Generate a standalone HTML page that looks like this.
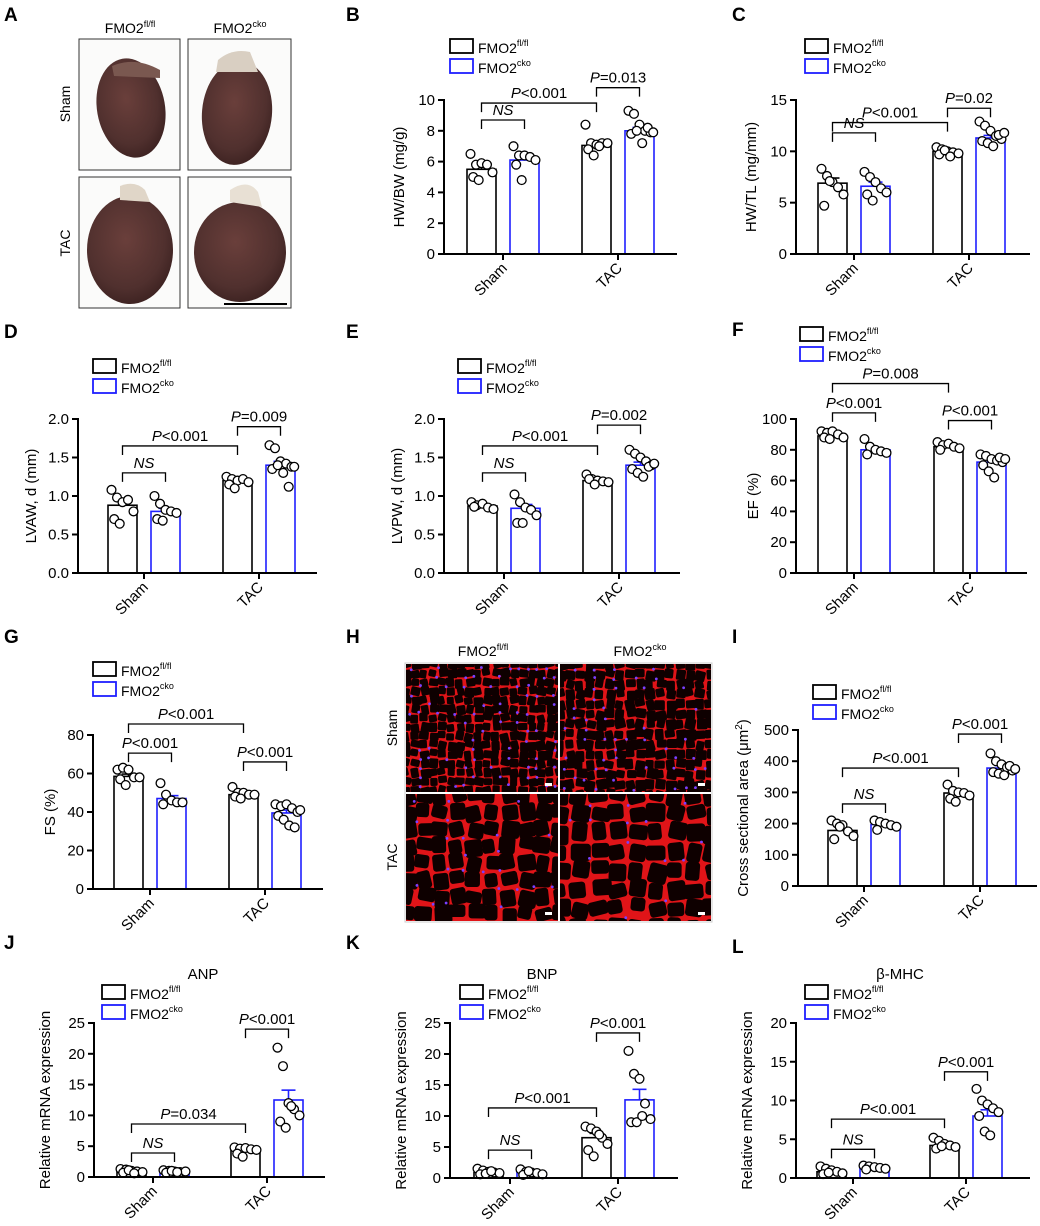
<!DOCTYPE html>
<html><head><meta charset="utf-8">
<style>
html,body{margin:0;padding:0;background:#fff;}
svg{display:block;font-family:"Liberation Sans",Arial,sans-serif;}
</style></head>
<body>
<svg id="fig" width="1040" height="1226" viewBox="0 0 1040 1226" xmlns="http://www.w3.org/2000/svg">
<defs>
<radialGradient id="heartG" cx="0.45" cy="0.4" r="0.65">
<stop offset="0" stop-color="#6a3f3b"/><stop offset="0.7" stop-color="#50302e"/><stop offset="1" stop-color="#3a201f"/>
</radialGradient>
</defs>
<g id="letters" font-weight="bold" font-size="19">
<text x="4" y="21">A</text><text x="346" y="21">B</text><text x="732" y="21">C</text>
<text x="4" y="338">D</text><text x="346" y="338">E</text><text x="732" y="336">F</text>
<text x="4" y="643">G</text><text x="346" y="643">H</text><text x="732" y="643">I</text>
<text x="4" y="949">J</text><text x="346" y="949">K</text><text x="732" y="953">L</text>
</g>
<g id="panelA">
<text x="130" y="33" font-size="14" text-anchor="middle">FMO2<tspan font-size="9" dy="-6">fl/fl</tspan></text>
<text x="240" y="33" font-size="14" text-anchor="middle">FMO2<tspan font-size="9" dy="-6">cko</tspan></text>
<text transform="translate(70,104) rotate(-90)" font-size="14" text-anchor="middle">Sham</text>
<text transform="translate(70,243) rotate(-90)" font-size="14" text-anchor="middle">TAC</text>
<rect x="79" y="39" width="101" height="131" fill="#fbfbfa" stroke="#333"/>
<rect x="188" y="39" width="103" height="131" fill="#fbfbfa" stroke="#333"/>
<rect x="79" y="177" width="101" height="131" fill="#fbfbfa" stroke="#333"/>
<rect x="188" y="177" width="103" height="131" fill="#fbfbfa" stroke="#333"/>
<ellipse cx="131" cy="108" rx="34" ry="50" fill="url(#heartG)" transform="rotate(-10 131 108)"/>
<path d="M112 66 Q135 56 160 70 L160 78 L114 76Z" fill="#7a5850"/>
<ellipse cx="237" cy="113" rx="35" ry="52" fill="url(#heartG)" transform="rotate(5 237 113)"/>
<path d="M218 60 Q232 48 250 52 L258 72 L216 72Z" fill="#d9cfc2"/>
<ellipse cx="130" cy="250" rx="43" ry="54" fill="url(#heartG)"/>
<path d="M120 186 Q135 180 145 190 L150 202 L120 200Z" fill="#e0d6c8"/>
<ellipse cx="240" cy="252" rx="46" ry="50" fill="url(#heartG)"/>
<path d="M230 190 Q248 178 258 192 L262 207 L230 202Z" fill="#e8e0d4"/>
<line x1="224" y1="304" x2="287" y2="304" stroke="#000" stroke-width="2"/>
</g>
<g id="panelH">
<text x="483" y="656" font-size="14" text-anchor="middle">FMO2<tspan font-size="9" dy="-6">fl/fl</tspan></text>
<text x="640" y="656" font-size="14" text-anchor="middle">FMO2<tspan font-size="9" dy="-6">cko</tspan></text>
<text transform="translate(397,728) rotate(-90)" font-size="14" text-anchor="middle">Sham</text>
<text transform="translate(397,857) rotate(-90)" font-size="14" text-anchor="middle">TAC</text>
<g id="micro"></g>
</g>
<g id="charts"></g>
</svg>
<script>
// ---------- chart data ----------
const categories = ["Sham","TAC"];
const B_ticks=[0,2,4,6,8,10], B_means=[5.5,6.1,7.05,8.0], B_sems=[0.25,0.25,0.2,0.22];
const B_pts=[[6.5,5.8,5.9,5.8,5.3,5.0,4.8],[7.0,6.4,6.4,6.3,6.1,5.8,4.8],[8.4,7.2,7.1,7.2,7.2,6.8,6.4,7.0],[9.3,9.1,8.4,8.0,7.9,7.8,8.0,7.2,8.2,7.9]];
const B_brackets=[[0,1,8.7,"NS"],[0,2,9.8,"P<0.001"],[2,3,10.8,"P=0.013"]];
const C_ticks=[0,5,10,15], C_means=[6.9,6.6,10.0,11.3], C_sems=[0.5,0.4,0.12,0.25];
const C_pts=[[8.3,7.6,7.0,6.5,5.8,4.7,7.1],[8.0,7.5,7.0,6.4,6.0,5.8,5.2],[10.4,10.2,10.0,9.9,9.8,9.7,10.1,9.5],[12.9,12.5,12.0,11.5,11.2,11.0,10.8,10.5,11.6,11.8]];
const C_brackets=[[0,1,11.8,"NS"],[0,2,12.8,"P<0.001"],[2,3,14.2,"P=0.02"]];
const D_ticks=[0,0.5,1.0,1.5,2.0], D_means=[0.88,0.80,1.2,1.4], D_sems=[0.05,0.04,0.02,0.05];
const D_pts=[[1.08,0.98,0.92,0.95,0.80,0.70,0.64],[1.0,0.9,0.82,0.8,0.78,0.7,0.68],[1.25,1.22,1.2,1.22,1.18,1.15,1.1],[1.66,1.62,1.45,1.42,1.38,1.35,1.4,1.3,1.12,1.38]];
const D_brackets=[[0,1,1.3,"NS"],[0,2,1.65,"P<0.001"],[2,3,1.9,"P=0.009"]];
const E_ticks=[0,0.5,1.0,1.5,2.0], E_means=[0.87,0.84,1.2,1.4], E_sems=[0.02,0.05,0.02,0.04];
const E_pts=[[0.92,0.88,0.9,0.85,0.83,0.86],[1.02,0.92,0.85,0.82,0.75,0.65,0.65],[1.28,1.22,1.2,1.19,1.18,1.22,1.15],[1.6,1.55,1.5,1.45,1.4,1.35,1.3,1.25,1.38,1.42]];
const E_brackets=[[0,1,1.3,"NS"],[0,2,1.65,"P<0.001"],[2,3,1.92,"P=0.002"]];
const F_ticks=[0,20,40,60,80,100], F_means=[89,80,82,72], F_sems=[0.8,1.5,0.8,1.6];
const F_pts=[[92,91,92,90,88,88,87],[87,82,80,79,78,77],[85,83,84,82,81,80],[77,76,74,73,72,70,66,62,75,74]];
const F_brackets=[[0,1,104,"P<0.001"],[0,2,123,"P=0.008"],[2,3,99,"P<0.001"]];
const G_ticks=[0,20,40,60,80], G_means=[58.5,47,49,39.5], G_sems=[1.2,1.5,0.7,1.5];
const G_pts=[[62,63,62,58,58,57,54],[55,49,46,45,45,44],[53,50,50,49,49,48,47],[44,43,44,42,40,38,36,33,32,41]];
const G_brackets=[[0,1,70.6,"P<0.001"],[0,2,85.7,"P<0.001"],[2,3,66,"P<0.001"]];
const I_ticks=[0,100,200,300,400,500], I_means=[178,197,298,378], I_sems=[9,5,7,8];
const I_pts=[[210,200,195,175,160,150,190],[210,205,200,195,190,180],[325,305,300,298,290,280,270],[425,400,390,380,370,365,360,355,385,375]];
const I_brackets=[[0,1,263,"NS"],[0,2,378,"P<0.001"],[2,3,487,"P<0.001"]];
const J_ticks=[0,5,10,15,20,25], J_means=[0.9,0.9,4.3,12.5], J_sems=[0.1,0.1,0.2,1.6];
const J_pts=[[1.3,1.2,1.0,0.9,0.8,0.7,1.1,0.6],[1.1,1.0,0.9,0.8,0.9,0.7,1.0,0.8],[4.8,4.6,4.7,4.5,4.4,3.8,3.3],[21,18,12,11,10,9,8,11.5]];
const J_brackets=[[0,1,3.9,"NS"],[0,2,8.6,"P=0.034"],[2,3,24,"P<0.001"]];
const K_ticks=[0,5,10,15,20,25], K_means=[0.9,0.9,6.5,12.6], K_sems=[0.1,0.1,0.7,1.7];
const K_pts=[[1.5,1.2,1.0,0.9,0.8,0.6,0.7,1.1],[1.4,1.0,0.9,0.8,0.6,0.5,1.1],[8.3,8.0,7.5,6.5,5.5,4.5,3.5,7.0],[20.5,16.8,16.0,12.0,9.5,9.0,9.0,10.0]];
const K_brackets=[[0,1,4.5,"NS"],[0,2,11.3,"P<0.001"],[2,3,23.4,"P<0.001"]];
const L_ticks=[0,5,10,15,20], L_means=[0.8,1.3,4.2,8.0], L_sems=[0.1,0.1,0.2,0.8];
const L_pts=[[1.5,1.2,1.0,0.8,0.6,0.5,0.7],[1.6,1.5,1.4,1.3,1.2,1.1],[5.2,4.8,4.4,4.2,4.0,3.8,4.1],[11.5,10.0,9.5,9.0,8.5,8.0,6.0,5.5]];
const L_brackets=[[0,1,3.7,"NS"],[0,2,7.6,"P<0.001"],[2,3,13.7,"P<0.001"]];

const NS="http://www.w3.org/2000/svg";
const BLUE="#1f1fff";
function el(tag,attrs,parent){const e=document.createElementNS(NS,tag);for(const k in attrs)e.setAttribute(k,attrs[k]);if(parent)parent.appendChild(e);return e;}

function addLabel(parent,x,y,label,fs){
  const t=el("text",{x:x,y:y,"font-size":fs,"text-anchor":"middle"},parent);
  
  
  if(label==="NS"){t.setAttribute("font-style","italic");t.textContent="NS";}
  else{const a=el("tspan",{"font-style":"italic"},t);a.textContent="P";const b=el("tspan",{},t);b.textContent=label.slice(1);}
}

function drawChart(id,cfg,ticks,means,sems,pts,brackets){
  const root=document.getElementById("charts");
  const g=el("g",{},root);
  
  
  const ymax=ticks[ticks.length-1];
  const Y=v=>cfg.y0-(v/ymax)*(cfg.y0-cfg.ytop);
  const barX=i=>{const c=cfg.cats[Math.floor(i/2)];return i%2===0?c-36:c+7;};
  const BW=29;
  means.forEach((m,i)=>{
    const col=i%2===0?"#000":BLUE;
    const r=el("rect",{x:barX(i),y:Y(m),width:BW,height:cfg.y0-Y(m),fill:"#fff",stroke:col,"stroke-width":1.6},g);
    
    
    const cx=barX(i)+BW/2;
    const e1=el("line",{x1:cx,x2:cx,y1:Y(m),y2:Y(m+sems[i]),stroke:col,"stroke-width":1.6},g);
    
    
    el("line",{x1:cx-7,x2:cx+7,y1:Y(m+sems[i]),y2:Y(m+sems[i]),stroke:col,"stroke-width":1.6},g);
  });
  pts.forEach((arr,i)=>{
    const cx=barX(i)+BW/2;
    arr.forEach((v,k)=>{
      const off=((k%5)-2)*5.5+(k>=5?2.7:0);
      const c=el("circle",{cx:cx+off,cy:Y(v),r:4.4,fill:"#fff",stroke:"#000","stroke-width":1.3},g);
      
      
    });
  });
  const ya=el("line",{x1:cfg.ax,x2:cfg.ax,y1:cfg.ytop-1,y2:cfg.y0+1,stroke:"#000","stroke-width":2},g);
  
  
  const xa=el("line",{x1:cfg.ax-1,x2:cfg.xend,y1:cfg.y0,y2:cfg.y0,stroke:"#000","stroke-width":2},g);
  
  
  ticks.forEach(t=>{
    el("line",{x1:cfg.ax-6,x2:cfg.ax,y1:Y(t),y2:Y(t),stroke:"#000","stroke-width":2},g);
    const tl=el("text",{x:cfg.ax-9,y:Y(t)+5,"font-size":15,"text-anchor":"end"},g);
    
    
    tl.textContent=cfg.fmt?t.toFixed(1):String(t);
  });
  cfg.cats.forEach((c,ci)=>{
    el("line",{x1:c,x2:c,y1:cfg.y0,y2:cfg.y0+6,stroke:"#000","stroke-width":2},g);
    const t=el("text",{transform:`translate(${c+5},${cfg.y0+15}) rotate(-45)`,"font-size":15,"text-anchor":"end"},g);
    
    
    t.textContent=categories[ci];
  });
  const yt=el("text",{transform:`translate(${cfg.ax-cfg.tOff},${(cfg.y0+cfg.ytop)/2}) rotate(-90)`,"font-size":15,"text-anchor":"middle"},g);
  
  
  if(cfg.sup){yt.textContent=cfg.ytitle;const s=el("tspan",{"font-size":10,dy:-6},yt);s.textContent="2";const s2=el("tspan",{dy:6},yt);s2.textContent=")";}
  else yt.textContent=cfg.ytitle;
  brackets.forEach(b=>{
    const x1=barX(b[0])+BW/2,x2=barX(b[1])+BW/2,y=Y(b[2]);
    const p=el("path",{d:`M${x1} ${y+9} V${y} H${x2} V${y+9}`,fill:"none",stroke:"#000","stroke-width":1.3},g);
    
    
    addLabel(g,(x1+x2)/2,y-5,b[3],15);
  });
  const lg=el("g",{},g);
  
  
  [["fl/fl","#000"],["cko",BLUE]].forEach((e,i)=>{
    const y=cfg.leg[1]+i*20;
    el("rect",{x:cfg.leg[0],y:y,width:23,height:14,fill:"#fff",stroke:e[1],"stroke-width":1.8},lg);
    const t=el("text",{x:cfg.leg[0]+28,y:y+14,"font-size":14},lg);
    
    
    t.textContent="FMO2";const s=el("tspan",{"font-size":9,dy:-7},t);s.textContent=e[0];
  });
  if(cfg.title){const t=el("text",{x:cfg.title[1],y:cfg.title[2],"font-size":15,"text-anchor":"middle"},g);
    
    
    t.textContent=cfg.title[0];}
}

drawChart("B",{ax:444,y0:254,ytop:100,xend:677,cats:[503,618],ytitle:"HW/BW (mg/g)",tOff:40,leg:[450,39]},B_ticks,B_means,B_sems,B_pts,B_brackets);
drawChart("C",{ax:796,y0:254,ytop:100,xend:1030,cats:[854,969],ytitle:"HW/TL (mg/mm)",tOff:40,leg:[805,39]},C_ticks,C_means,C_sems,C_pts,C_brackets);
drawChart("D",{ax:78,y0:573,ytop:419,xend:317,cats:[144,259],ytitle:"LVAW, d (mm)",tOff:42,leg:[93,359],fmt:1},D_ticks,D_means,D_sems,D_pts,D_brackets);
drawChart("E",{ax:444,y0:573,ytop:419,xend:680,cats:[504,619],ytitle:"LVPW, d (mm)",tOff:42,leg:[458,359],fmt:1},E_ticks,E_means,E_sems,E_pts,E_brackets);
drawChart("F",{ax:796,y0:573,ytop:419,xend:1027,cats:[854,970],ytitle:"EF (%)",tOff:38,leg:[800,327]},F_ticks,F_means,F_sems,F_pts,F_brackets);
drawChart("G",{ax:93,y0:889,ytop:735,xend:323,cats:[150,265],ytitle:"FS (%)",tOff:38,leg:[93,662]},G_ticks,G_means,G_sems,G_pts,G_brackets);
drawChart("I",{ax:798,y0:886,ytop:730,xend:1037,cats:[864,980],ytitle:"Cross sectional area (μm",tOff:50,leg:[813,685],sup:1},I_ticks,I_means,I_sems,I_pts,I_brackets);
drawChart("J",{ax:94,y0:1177,ytop:1023,xend:325,cats:[153,267],ytitle:"Relative mRNA expression",tOff:44,leg:[102,985],title:["ANP",203,979]},J_ticks,J_means,J_sems,J_pts,J_brackets);
drawChart("K",{ax:450,y0:1178,ytop:1023,xend:678,cats:[510,618],ytitle:"Relative mRNA expression",tOff:44,leg:[460,985],title:["BNP",542,979]},K_ticks,K_means,K_sems,K_pts,K_brackets);
drawChart("L",{ax:796,y0:1178,ytop:1023,xend:1030,cats:[853,966],ytitle:"Relative mRNA expression",tOff:44,leg:[805,985],title:["β-MHC",900,979]},L_ticks,L_means,L_sems,L_pts,L_brackets);

// ---------- micrograph texture (decorative) ----------
(function(){
  const m=document.getElementById("micro");
  let s=12345;const rnd=()=>{s=(s*16807)%2147483647;return s/2147483647;};
  const imgs=[[406,664,152,128,9,0.55],[560,664,151,128,10,0.6],[406,794,152,127,17,1.5],[560,794,151,127,19,1.8]];
  imgs.forEach((im,idx)=>{
    const [x,y,w,h,cell,gap]=im;
    const gg=el("g",{},m);
    
    
    el("rect",{x:x,y:y,width:w,height:h,fill:"#e01418"},gg);
    const cp="cp"+idx;
    const c=el("clipPath",{id:cp},gg);el("rect",{x:x,y:y,width:w,height:h},c);
    const inner=el("g",{"clip-path":`url(#${cp})`},gg);
    const nuc=[];
    for(let yy=y-cell/2;yy<y+h;yy+=cell){
      for(let xx=x-cell/2;xx<x+w;xx+=cell){
        const jx=(rnd()-0.5)*cell*0.3,jy=(rnd()-0.5)*cell*0.3;
        const cw=cell-gap*2+(rnd()-0.3)*cell*0.35, ch=cell-gap*2+(rnd()-0.3)*cell*0.35;
        const rx=xx+jx+gap, ry=yy+jy+gap;
        el("rect",{x:rx,y:ry,width:Math.max(2,cw),height:Math.max(2,ch),rx:cell*0.18,fill:"#0e0000",
          transform:`rotate(${(rnd()-0.5)*30} ${rx+cw/2} ${ry+ch/2})`},inner);
        if(rnd()<0.3) nuc.push([xx+jx,yy+jy]);
      }
    }
    nuc.forEach(p=>el("circle",{cx:p[0],cy:p[1],r:1.4,fill:"#7a40ff"},inner));
    el("rect",{x:x+w-13,y:y+h-9,width:7,height:3,fill:"#fff"},gg);
  });
  el("rect",{x:405,y:663,width:307,height:259,fill:"none",stroke:"#ccc","stroke-width":1},m);
})();
</script>
</body></html>
